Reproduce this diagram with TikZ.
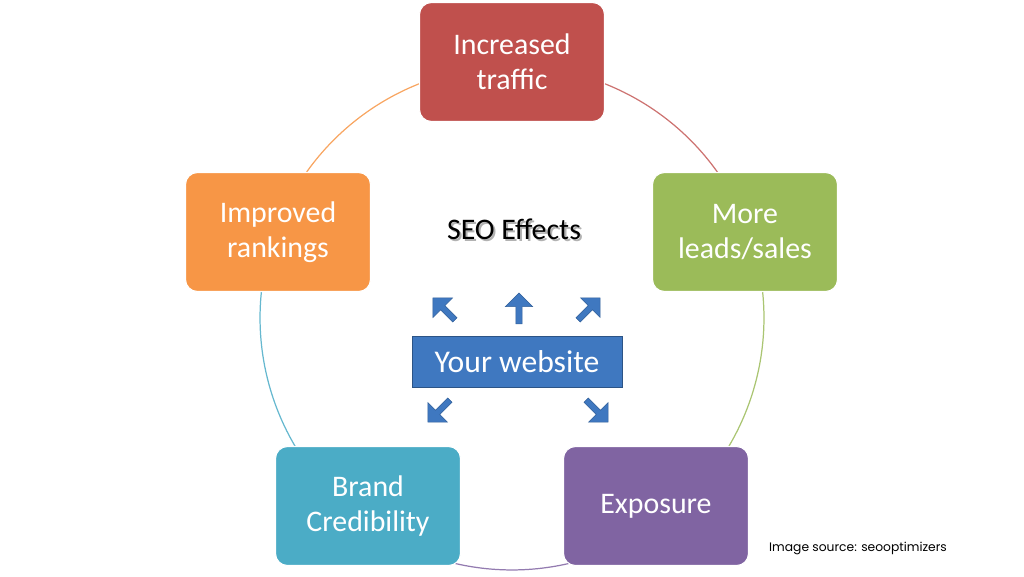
\documentclass[tikz,border=0pt]{standalone}
\usepackage{fontspec}
\setmainfont{Carlito}
\newfontfamily\srcfont{Poppins}
\usetikzlibrary{shapes.arrows}
\definecolor{cred}{HTML}{C0504D}
\definecolor{cgreen}{HTML}{9BBB59}
\definecolor{corange}{HTML}{F79646}
\definecolor{ccyan}{HTML}{4BACC6}
\definecolor{cpurple}{HTML}{8064A2}
\definecolor{cblue}{HTML}{3F78C0}
\begin{document}
\begin{tikzpicture}[x=0.02cm,y=0.02cm,
  effbox/.style={rounded corners=0.24cm,minimum width=3.7cm,minimum height=2.38cm,text=white,align=center,font=\fontsize{17}{20}\selectfont,draw=white,line width=0.6pt},
  barrow/.style={single arrow,fill=cblue,draw=cblue!80!black,line width=0.3pt,minimum height=0.62cm,minimum width=0.55cm,single arrow head extend=0.08cm,inner sep=0.5pt}]
\useasboundingbox (0,0) rectangle (1024,576);
\coordinate (c) at (512,258);
\def\R{5.04cm}
\draw[cred!80,line width=0.7pt] (c) ++(90:\R) arc[start angle=90,end angle=20,radius=\R];
\draw[cgreen!85,line width=0.7pt] (c) ++(20:\R) arc[start angle=20,end angle=-53,radius=\R];
\draw[cpurple!85,line width=0.7pt] (c) ++(-53:\R) arc[start angle=-53,end angle=-127,radius=\R];
\draw[ccyan!85,line width=0.7pt] (c) ++(-127:\R) arc[start angle=-127,end angle=-200,radius=\R];
\draw[corange!85,line width=0.7pt] (c) ++(160:\R) arc[start angle=160,end angle=90,radius=\R];
\node[effbox,fill=cred] (traffic) at (512,514) {Increased\\traffic};
\node[effbox,fill=cgreen] (leads) at (745,344) {More\\leads/sales};
\node[effbox,fill=corange] (rank) at (278,344) {Improved\\rankings};
\node[effbox,fill=ccyan] (brand) at (368,70) {Brand\\Credibility};
\node[effbox,fill=cpurple] (expo) at (656,70) {Exposure};
\node[text=gray!60,font=\fontsize{17}{20}\selectfont] at (516,345) {SEO Effects};
\node[font=\fontsize{17}{20}\selectfont] (seo) at (514,347) {SEO Effects};
\node[fill=cblue,draw=cblue!70!black,minimum width=4.2cm,minimum height=1.02cm,text=white,font=\fontsize{18}{20}\selectfont,inner sep=0pt] (web) at (517,214) {Your website};
\node[barrow,rotate=135] (a1) at (445,266) {};
\node[barrow,rotate=90] (a2) at (519,266) {};
\node[barrow,rotate=45] (a3) at (588,266) {};
\node[barrow,rotate=-135] (a4) at (440,166) {};
\node[barrow,rotate=-45] (a5) at (596,166) {};
\node[font=\srcfont\fontsize{7}{8}\selectfont] (src) at (858,28) {Image source: seooptimizers};
\end{tikzpicture}
\end{document}
